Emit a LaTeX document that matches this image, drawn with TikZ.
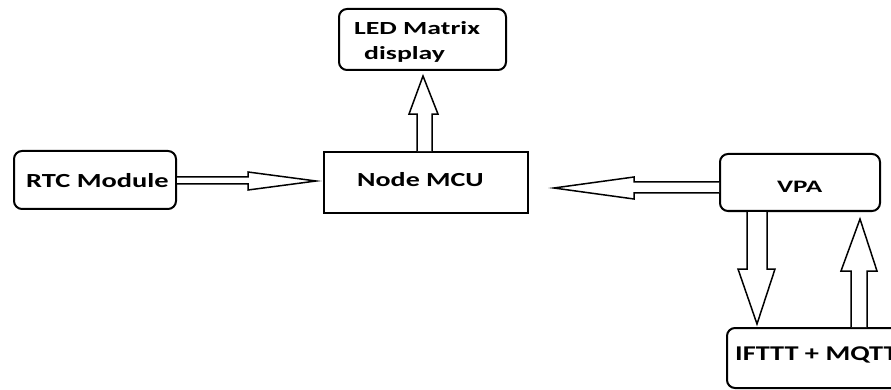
\documentclass[tikz,border=0pt]{standalone}
\usepackage{fontspec}
\setmainfont{Carlito}
\usetikzlibrary{calc}
\newcommand{\stretchtxt}[2]{\scalebox{#1}[1]{#2}}
\begin{document}
\begin{tikzpicture}[x=1pt,y=-1pt,
  box/.style={draw=black,line width=2pt,rounded corners=8pt,inner sep=0pt},
  sqbox/.style={draw=black,line width=1.8pt,inner sep=0pt},
  lbl/.style={font=\bfseries\fontsize{20}{24}\selectfont,inner sep=0pt,anchor=base west},
  blk/.style={draw=black,line width=1.5pt,line join=miter,fill=white}]
\clip (0,0) rectangle (891,390);
\useasboundingbox (0,0) rectangle (891,390);
% boxes
\node[box,minimum width=162pt,minimum height=58pt] (rtc) at (95,180) {};
\node[sqbox,minimum width=204pt,minimum height=61pt] (mcu) at (426,182.5) {};
\node[box,minimum width=167pt,minimum height=61pt] (led) at (422.5,39.5) {};
\node[box,minimum width=160pt,minimum height=57pt] (vpa) at (800,182.5) {};
\node[box,minimum width=180pt,minimum height=60pt] (ifttt) at (817,358) {};
% labels
\node[lbl] (rtct) at (26,187.7) {\stretchtxt{1.42}{RTC Module}};
\node[lbl] (mcut) at (357,186) {\stretchtxt{1.40}{Node MCU}};
\node[lbl,font=\bfseries\fontsize{18.5}{24}\selectfont] (ledt1) at (354,35) {\stretchtxt{1.5}{LED Matrix}};
\node[lbl,font=\bfseries\fontsize{18.5}{24}\selectfont] (ledt2) at (364,59.3) {\stretchtxt{1.5}{display}};
\node[lbl,font=\bfseries\fontsize{17.5}{24}\selectfont] (vpat) at (777,192.7) {\stretchtxt{1.55}{VPA}};
\node[lbl,font=\bfseries\fontsize{21}{24}\selectfont] (iftt) at (735,360) {\stretchtxt{1.35}{IFTTT + MQTT}};
% RTC -> MCU
\draw[blk] ($(rtc.east)+(0,-3)$) -- ($(rtc.east)+(71,-3)$) -- ($(rtc.east)+(71,-8)$)
  -- ($(mcu.west)+(-7,-1.5)$) -- ($(rtc.east)+(71,10)$) -- ($(rtc.east)+(71,4)$)
  -- ($(rtc.east)+(0,4)$);
% MCU -> LED
\draw[blk] ($(mcu.north)+(-9,0)$) -- ($(mcu.north)+(-9,-37)$) -- ($(mcu.north)+(-17,-37)$)
  -- ($(led.south)+(0.5,5)$) -- ($(mcu.north)+(12,-37)$) -- ($(mcu.north)+(6,-37)$)
  -- ($(mcu.north)+(6,0)$);
% VPA -> MCU
\draw[blk] ($(vpa.west)+(0,-0.5)$) -- ($(vpa.west)+(-85,-0.5)$) -- ($(vpa.west)+(-85,-5.5)$)
  -- ($(mcu.east)+(25,5.5)$) -- ($(vpa.west)+(-85,16.5)$) -- ($(vpa.west)+(-85,10.5)$)
  -- ($(vpa.west)+(0,10.5)$);
% VPA -> IFTTT
\draw[blk] ($(vpa.south)+(-53,0)$) -- ($(vpa.south)+(-53,57)$) -- ($(vpa.south)+(-62,57)$)
  -- ($(ifttt.north west)+(31,-3)$) -- ($(vpa.south)+(-25,57)$) -- ($(vpa.south)+(-33,57)$)
  -- ($(vpa.south)+(-33,0)$);
% IFTTT -> VPA
\draw[blk] ($(ifttt.north west)+(125,0)$) -- ($(ifttt.north west)+(125,-56)$) -- ($(ifttt.north west)+(115,-56)$)
  -- ($(vpa.south)+(60,7)$) -- ($(ifttt.north west)+(151,-56)$) -- ($(ifttt.north west)+(141,-56)$)
  -- ($(ifttt.north west)+(141,0)$);
\end{tikzpicture}
\end{document}
